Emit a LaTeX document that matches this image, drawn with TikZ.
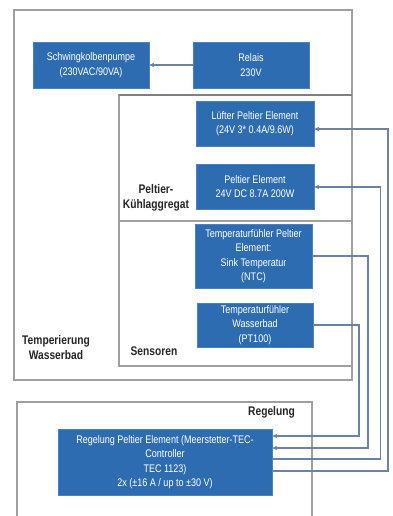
\documentclass[tikz,border=0pt]{standalone}
\usepackage{fontspec}
\setmainfont{Liberation Sans}[FakeStretch=0.82]
\usetikzlibrary{arrows.meta}
\definecolor{boxblue}{RGB}{46,108,178}
\definecolor{connblue}{RGB}{108,130,165}
\definecolor{framegray}{RGB}{160,160,160}
\tikzset{
  bluebox/.style={draw=boxblue!85!white, line width=0.6pt, fill=boxblue, text=white, inner sep=0pt, align=center, font=\fontsize{11}{14.5}\selectfont},
  frame/.style={draw=framegray, line width=1.1pt},
  conn/.style={draw=connblue, line width=1.1pt, -{Stealth[length=5pt,width=4.5pt]}},
  plain/.style={draw=connblue, line width=1.1pt},
  grouplabel/.style={align=center, inner sep=0pt, font=\bfseries\fontsize{12.5}{15.5}\selectfont, text=black!85}
}
\begin{document}
\begin{tikzpicture}[x=1pt,y=-1pt]
\useasboundingbox (0,0) rectangle (393,516);
\fill[white] (0,0) rectangle (393,516);
% frames
\draw[frame] (14,10) rectangle (352,380);
\draw[frame] (119,95) rectangle (352,221);
\draw[draw=black!50, line width=1.3pt] (119,95) -- (352,95);
\draw[frame] (119,221) rectangle (352,366);
\draw[frame] (17,516) -- (17,402) -- (312,402) -- (312,516);
% group labels
\node[grouplabel] (lblkuehl) at (156,198) {Peltier-\\Kühlaggregat};
\node[grouplabel] (lblsens) at (154,351) {Sensoren};
\node[grouplabel] (lbltemp) at (56,347.5) {Temperierung\\Wasserbad};
\node[grouplabel] (lblreg) at (271.5,412) {Regelung};
% boxes
\node[bluebox, minimum width=116pt, minimum height=46pt] (pump) at (91,65) {Schwingkolbenpumpe\\(230VAC/90VA)};
\node[bluebox, minimum width=116pt, minimum height=46pt] (relais) at (251,65) {Relais\\230V};
\node[bluebox, minimum width=118pt, minimum height=45pt] (lue) at (255,123.5) {Lüfter Peltier Element\\(24V 3* 0.4A/9.6W)};
\node[bluebox, minimum width=118pt, minimum height=45pt] (pel) at (255,186.5) {Peltier Element\\24V DC 8.7A 200W};
\node[bluebox, minimum width=117pt, minimum height=64pt] (ntc) at (253.5,256) {Temperaturfühler Peltier\\Element:\\Sink Temperatur\\(NTC)};
\node[bluebox, minimum width=116pt, minimum height=44pt] (wb) at (255,325) {Temperaturfühler\\Wasserbad\\(PT100)};
\node[bluebox, minimum width=214pt, minimum height=66pt] (reg) at (165,462) {Regelung Peltier Element (Meerstetter-TEC-\\Controller\\TEC 1123)\\2x (±16 A / up to ±30 V)};
% connectors
\draw[conn] (relais.west) -- (pump.east);
\coordinate (w1) at (359,436);
\coordinate (n1) at (368,448);
\coordinate (p1) at (380.5,459);
\coordinate (p2) at (380.5,187);
\coordinate (l1) at (388,471);
\coordinate (l2) at (388,129);
\draw[conn] (wb.east) -| (w1) -- (reg.east |- w1);
\draw[conn] (ntc.east) -| (n1) -- (reg.east |- n1);
\draw[conn] (reg.east |- p1) -- (p1) -- (p2) -- (pel.east |- p2);
\draw[conn] (reg.east |- l1) -- (l1) -- (l2) -- (lue.east |- l2);
\end{tikzpicture}
\end{document}
